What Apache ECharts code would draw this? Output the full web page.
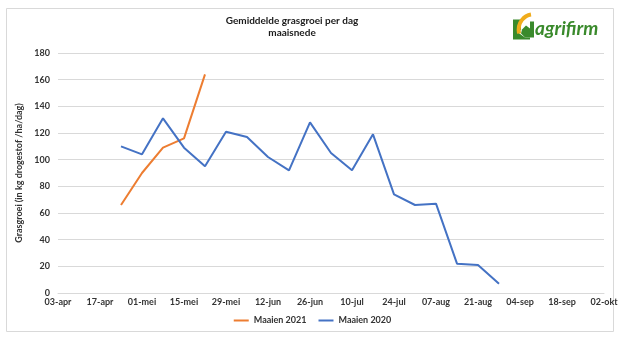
<!DOCTYPE html>
<html>
<head>
<meta charset="utf-8">
<script src="https://cdn.jsdelivr.net/npm/echarts@6/dist/echarts.min.js"></script>
<style>
  html, body { margin: 0; padding: 0; background: #ffffff; }
  #chart { width: 625px; height: 341px; }
</style>
</head>
<body>
<div id="chart"></div>
<script>
// Weekly dates on the x axis (labels shown every two weeks)
const weeks = ['03-apr','10-apr','17-apr','24-apr','01-mei','08-mei','15-mei','22-mei','29-mei',
  '05-jun','12-jun','19-jun','26-jun','03-jul','10-jul','17-jul','24-jul','31-jul','07-aug',
  '14-aug','21-aug','28-aug','04-sep','11-sep','18-sep','25-sep','02-okt'];

// Grass growth, kg dry matter per ha per day
const maaien2021 = [null, null, null, 66, 90, 109, 116, 164];
const maaien2020 = [null, null, null, 110, 104, 131, 109, 95, 121, 117, 102, 92, 128, 105, 92,
  119, 74, 66, 67, 22, 21, 7];

const yTicks = { min: 0, max: 180, interval: 20 };

const fontFamily = 'Lato, "Open Sans", sans-serif';
const labelColor = '#333333';
const chart = echarts.init(document.getElementById('chart'), null, { renderer: 'canvas' });

chart.setOption({
  backgroundColor: '#ffffff',
  animation: false,
  textStyle: { fontFamily: fontFamily },
  title: {
    text: 'Gemiddelde grasgroei per dag\nmaaisnede',
    left: 287,
    top: 10,
    textAlign: 'center',
    textStyle: { fontSize: 10, fontWeight: 'bold', color: '#1a1a1a', lineHeight: 12, fontFamily: fontFamily }
  },
  legend: {
    bottom: 11,
    left: 'center',
    itemWidth: 15,
    itemHeight: 2,
    itemGap: 12,
    icon: 'rect',
    textStyle: { fontSize: 9, fontWeight: 'bold', color: labelColor, fontFamily: fontFamily },
    data: ['Maaien 2021', 'Maaien 2020']
  },
  grid: { left: 58, right: 21, top: 53, bottom: 48, containLabel: false },
  xAxis: {
    type: 'category',
    data: weeks,
    boundaryGap: false,
    axisLine: { show: true, lineStyle: { color: '#d9d9d9', width: 1 } },
    axisTick: { show: false },
    axisLabel: { interval: 1, fontSize: 9, fontWeight: 'bold', color: labelColor, margin: 5, fontFamily: fontFamily }
  },
  yAxis: {
    type: 'value',
    min: yTicks.min,
    max: yTicks.max,
    interval: yTicks.interval,
    name: 'Grasgroei (in kg drogestof /ha/dag)',
    nameLocation: 'middle',
    nameGap: 28,
    nameTextStyle: { fontSize: 9, fontWeight: 'bold', color: labelColor, fontFamily: fontFamily },
    axisLine: { show: false },
    axisTick: { show: false },
    axisLabel: { fontSize: 9, fontWeight: 'bold', color: labelColor, margin: 8, fontFamily: fontFamily },
    splitLine: { lineStyle: { color: '#d9d9d9', width: 1 } }
  },
  series: [
    {
      name: 'Maaien 2021',
      type: 'line',
      data: maaien2021,
      showSymbol: false,
      symbol: 'none',
      connectNulls: false,
      itemStyle: { color: '#ED7D31' },
      lineStyle: { color: '#ED7D31', width: 2 }
    },
    {
      name: 'Maaien 2020',
      type: 'line',
      data: maaien2020,
      showSymbol: false,
      symbol: 'none',
      connectNulls: false,
      itemStyle: { color: '#4472C4' },
      lineStyle: { color: '#4472C4', width: 2 }
    }
  ],
  graphic: [
    // chart frame
    {
      type: 'rect',
      shape: { x: 6.5, y: 8.5, width: 607, height: 323 },
      style: { fill: 'none', stroke: '#d9d9d9', lineWidth: 1 },
      silent: true,
      z: -1
    },
    // company logo mark: green block with a gold swoosh
    {
      type: 'group',
      left: 513,
      top: 12,
      children: [
        {
          type: 'polygon',
          shape: { points: [[0, 6], [8, 6], [8, 16], [5, 19], [12, 24], [21, 24], [21, 8], [17, 8], [17, 26], [0, 26]] },
          style: { fill: '#3a8a2c' }
        },
        {
          type: 'polygon',
          shape: { points: [[9, 16], [13, 12], [17, 15], [17, 24], [12, 24], [8, 20]] },
          style: { fill: '#3a8a2c' }
        },
        {
          type: 'bezierCurve',
          shape: { x1: 6, y1: 20, x2: 18, y2: 1, cpx1: 4, cpy1: 8, cpx2: 12, cpy2: 2 },
          style: { stroke: '#f0ac1c', lineWidth: 4, fill: 'none' }
        }
      ]
    },
    {
      type: 'text',
      left: 535,
      top: 19,
      style: {
        text: 'agrifirm',
        fill: '#3a8a2c',
        font: 'italic bold 19px Lato, "Open Sans", sans-serif'
      }
    }
  ]
});
</script>
</body>
</html>
